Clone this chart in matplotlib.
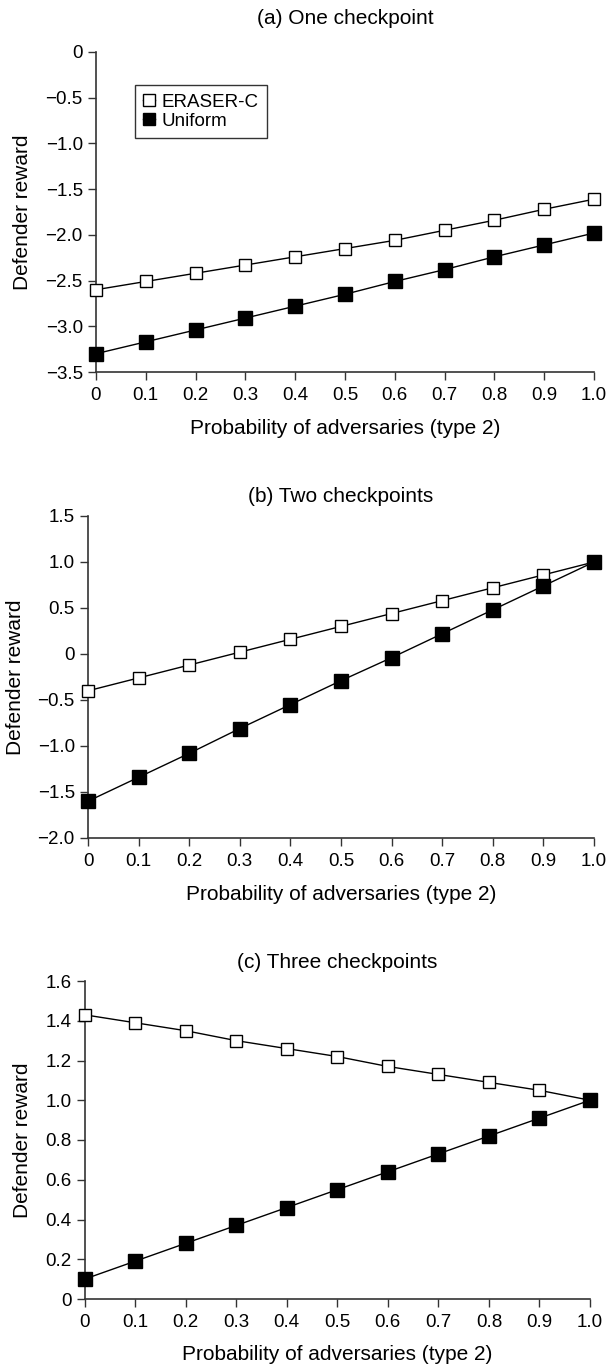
import numpy as np
import matplotlib
matplotlib.use("Agg")
import matplotlib.pyplot as plt

plt.rcParams['font.family'] = ['Liberation Sans', 'DejaVu Sans']

# x values: probability of adversaries (type 2)
prob = [0, 0.1, 0.2, 0.3, 0.4, 0.5, 0.6, 0.7, 0.8, 0.9, 1.0]
prob_labels = ['0', '0.1', '0.2', '0.3', '0.4', '0.5', '0.6', '0.7', '0.8', '0.9', '1.0']

# (a) one checkpoint
eraser_a = [-2.60, -2.51, -2.42, -2.33, -2.24, -2.15, -2.06, -1.95, -1.84, -1.72, -1.61]
uniform_a = [-3.30, -3.17, -3.04, -2.91, -2.78, -2.65, -2.51, -2.38, -2.24, -2.11, -1.98]
# (b) two checkpoints
eraser_b = [-0.40, -0.26, -0.12, 0.02, 0.16, 0.30, 0.44, 0.58, 0.72, 0.86, 1.00]
uniform_b = [-1.60, -1.34, -1.08, -0.81, -0.55, -0.29, -0.04, 0.22, 0.48, 0.74, 1.00]
# (c) three checkpoints
eraser_c = [1.43, 1.39, 1.35, 1.30, 1.26, 1.22, 1.17, 1.13, 1.09, 1.05, 1.00]
uniform_c = [0.10, 0.19, 0.28, 0.37, 0.46, 0.55, 0.64, 0.73, 0.82, 0.91, 1.00]

titles = ['(a) One checkpoint', '(b) Two checkpoints', '(c) Three checkpoints']
yticks_a = [-3.5, -3.0, -2.5, -2.0, -1.5, -1.0, -0.5, 0]
ytlab_a = ['\u22123.5', '\u22123.0', '\u22122.5', '\u22122.0', '\u22121.5', '\u22121.0', '\u22120.5', '0']
yticks_b = [-2.0, -1.5, -1.0, -0.5, 0, 0.5, 1.0, 1.5]
ytlab_b = ['\u22122.0', '\u22121.5', '\u22121.0', '\u22120.5', '0', '0.5', '1.0', '1.5']
yticks_c = [0, 0.2, 0.4, 0.6, 0.8, 1.0, 1.2, 1.4, 1.6]
ytlab_c = ['0', '0.2', '0.4', '0.6', '0.8', '1.0', '1.2', '1.4', '1.6']

W, H = 607, 1366
fig = plt.figure(figsize=(W / 100, H / 100), dpi=100)

# axes boxes in pixels: left, right, top, bottom
boxes = [(96, 594, 52, 372), (88, 594, 516, 838), (84.5, 590, 981, 1299)]
title_gap = [34, 19, 19]
ylab_x = [23, 16, 23]
panels = [(eraser_a, uniform_a, yticks_a, ytlab_a),
          (eraser_b, uniform_b, yticks_b, ytlab_b),
          (eraser_c, uniform_c, yticks_c, ytlab_c)]

for k in range(3):
    l, r, t, b = boxes[k]
    ax = fig.add_axes([l / W, 1 - b / H, (r - l) / W, (b - t) / H])
    hpx = b - t
    wpx = r - l
    er, un, yt, ytl = panels[k]
    ax.plot(prob, er, '-', color='black', lw=1, marker='s', ms=9,
            mfc='white', mec='black', mew=1, label='ERASER-C', clip_on=False, zorder=3)
    ax.plot(prob, un, '-', color='black', lw=1, marker='s', ms=9.5,
            mfc='black', mec='black', label='Uniform', clip_on=False, zorder=3)
    ax.set_xlim(0, 1.0)
    ax.set_ylim(yt[0], yt[-1])
    ax.set_xticks(prob)
    ax.set_xticklabels(prob_labels)
    ax.set_yticks(yt)
    ax.set_yticklabels(ytl)
    ax.spines['top'].set_visible(False)
    ax.spines['right'].set_visible(False)
    for s in ['left', 'bottom']:
        ax.spines[s].set_color('#333333')
        ax.spines[s].set_linewidth(1.2)
    ax.tick_params(labelsize=13.5, length=5.5, width=1, color='#333333', direction='out')
    ax.tick_params(axis='x', pad=5)
    ax.tick_params(axis='y', pad=4)
    ax.set_xlabel('Probability of adversaries (type 2)', fontsize=15, va='center')
    ax.xaxis.set_label_coords(0.5, -56 / hpx)
    ax.set_ylabel('Defender reward', fontsize=15, va='center')
    ax.yaxis.set_label_coords((ylab_x[k] - l) / wpx, 0.5)
    ax.text(0.5, 1 + title_gap[k] / hpx, titles[k], transform=ax.transAxes,
            ha='center', va='center', fontsize=15)
    if k == 0:
        leg = ax.legend(loc='upper left', bbox_to_anchor=(39 / wpx, 287 / hpx),
                        borderaxespad=0, fontsize=13.5,
                        fancybox=False, edgecolor='#333333', framealpha=1,
                        handlelength=0.62, handletextpad=0.35, borderpad=0.45,
                        labelspacing=0.12, markerscale=0.95)
        leg.get_frame().set_linewidth(1.0)

plt.savefig('out.png', dpi=100)
